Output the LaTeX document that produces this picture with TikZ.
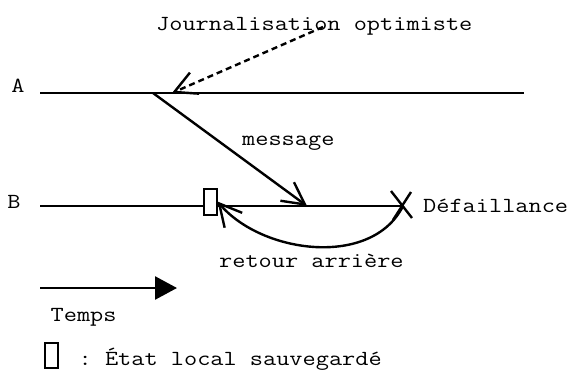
\documentclass[tikz,border=0pt]{standalone}
\usepackage{fontspec}
\setmonofont[FakeStretch=1.19]{Latin Modern Mono}
\usetikzlibrary{arrows.meta,calc}
\tikzset{
  lbl/.style={font=\ttfamily\fontsize{21.5}{26}\selectfont, inner sep=0pt, anchor=base west},
  proc/.style={line width=2.6pt},
  stick/.style={-{Straight Barb[length=22pt,width=23pt,line width=2.4pt]}},
  ckbox/.style={draw, line width=2pt, fill=white, rectangle, inner sep=0pt, minimum width=13pt, minimum height=26pt},
  cross/.style={line width=2.4pt}
}
\begin{document}
\begin{tikzpicture}[x=1pt,y=-1pt]
\useasboundingbox (0,0) rectangle (573,370);
% labels
\node[lbl] (journ) at (156,30) {Journalisation optimiste};
\node[lbl, anchor=base] (la) at (18,92) {A};
\node[lbl, anchor=base] (lb) at (14,208) {B};
\node[lbl] (msg) at (242,145) {message};
\node[lbl] (def) at (423,212) {Défaillance};
\node[lbl] (ret) at (219,267) {retour arrière};
\node[lbl] (temps) at (50.5,321) {Temps};
\node[lbl] (leg) at (78.5,365) {: État local sauvegardé};
% coordinates
\coordinate (A0) at (40,93);
\coordinate (A1) at (524,93);
\coordinate (B0) at (40,206);
\coordinate (fail) at (403,206);
\coordinate (send) at (153,93);
\coordinate (recv) at (307,206);
\coordinate (dstart) at (323,27);
\coordinate (dend) at (172,93);
\coordinate (T0) at (40,288);
\coordinate (T1) at (177,288);
% process lines
\draw[proc] (A0) -- (A1);
\draw[proc] (B0) -- (fail);
% message
\draw[line width=2.4pt, stick] (send) -- (recv);
% dashed annotation
\draw[line width=2.4pt, dash pattern=on 6pt off 4pt, stick] (dstart) -- (dend);
% checkpoint
\node[ckbox] (ckpt) at (210,201.5) {};
% failure cross
\draw[cross] ($(fail)+(-12,-15)$) -- ($(fail)+(9,12)$);
\draw[cross] ($(fail)+(8,-14)$) -- ($(fail)+(-10,14)$);
% rollback
\draw[line width=2.4pt, stick] (fail) .. controls (372,268) and (262,254) .. (ckpt.east);
% time arrow
\draw[line width=2.6pt, -{Triangle[length=22pt,width=23pt]}] (T0) -- (T1);
% legend box
\node[ckbox, minimum height=25pt] (legbox) at (51,355.5) {};
\end{tikzpicture}
\end{document}
